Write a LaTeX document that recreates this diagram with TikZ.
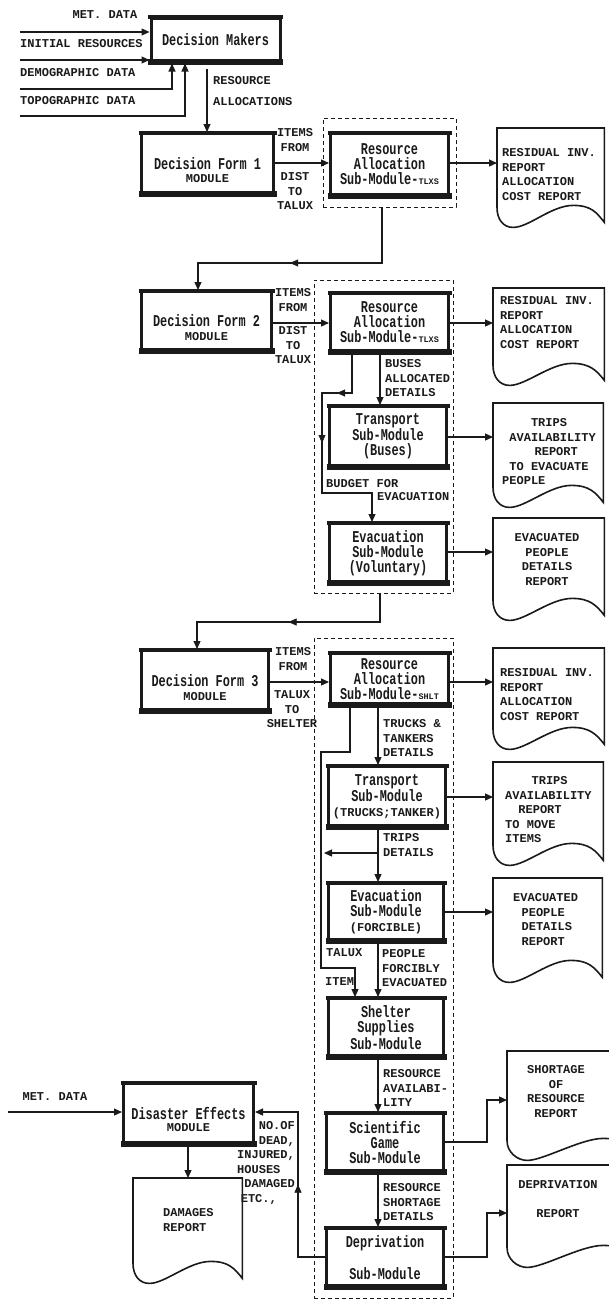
\documentclass[tikz,border=0pt]{standalone}
\usepackage{fontspec}
\newfontfamily\ttlf{Liberation Mono}[FakeStretch=0.72]
\newfontfamily\lblf{Liberation Mono}
\usetikzlibrary{arrows.meta,calc,decorations.markings}
\definecolor{ink}{HTML}{1A1A1A}
\tikzset{
 modbox/.style={draw=ink, line width=3pt, fill=white, inner sep=1pt, align=center,
   font=\ttlf\fontsize{16.5}{15}\selectfont\bfseries, text=ink},
 lbl/.style={font=\lblf\fontsize{12}{14.5}\selectfont\bfseries, text=ink, inner sep=0pt, align=left},
 lblc/.style={lbl, align=center},
 conn/.style={draw=ink, line width=1.2pt},
 arr/.style={conn, -{Triangle[length=8pt,width=7pt]}},
 midtip/.style={postaction={decorate}, decoration={markings, mark=at position 0.5 with {\arrow[ink]{Triangle[length=8pt,width=7pt]}}}},
 dbox/.style={draw=ink, line width=1pt, dash pattern=on 4pt off 3pt},
 docline/.style={draw=ink, line width=1.6pt},
 docn/.style={inner sep=0pt, anchor=north west},
 rimtop/.style={draw=ink, line width=4pt},
 rimbot/.style={draw=ink, line width=6pt},
}
\newcommand\docshape[5]{%
 \node[docn, minimum width=#4pt, minimum height=#5pt] (#1) at (#2,#3) {};
 \draw[docline] (#1.south west) -- (#1.north west) -- (#1.north east) -- ($(#1.south east)+(0,15)$)
   .. controls +(-8,-10) and +(18,0) .. ($(#1.south west)!0.71!(#1.south east)+(0,-2)$)
   .. controls +(-22,0) and +(16,0) .. ($(#1.south west)!0.15!(#1.south east)+(0,20)$)
   .. controls +(-10,0) and +(0,12) .. (#1.south west);
}
\newcommand\smallsub[1]{{\lblf\fontsize{8.5}{9}\selectfont #1}}
\newcommand\smalltxt[1]{{\lblf\fontsize{12}{12}\selectfont #1}}
\begin{document}
\begin{tikzpicture}[x=1pt,y=-1pt]
\useasboundingbox (0,0) rectangle (608,1301);
\fill[white] (0,0) rectangle (608,1301);

% dashed frames
\node[dbox, minimum width=133pt, minimum height=89pt] (D1) at (389.5,162.5) {};
\node[dbox, minimum width=139pt, minimum height=313pt] (D2) at (383.5,436.5) {};
\node[dbox, minimum width=139pt, minimum height=660pt] (D3) at (383.5,968) {};

% module boxes
\node[modbox, minimum width=129pt, minimum height=44pt] (DM) at (215.5,40) {Decision Makers};
\node[modbox, minimum width=132pt, minimum height=60pt] (DF1) at (207.5,163.5) {Decision Form 1};
\node[modbox, minimum width=118pt, minimum height=62pt] (RA1) at (389.5,164.5) {Resource\\Allocation\\Sub-Module-\smallsub{TLXS}};
\node[modbox, minimum width=130pt, minimum height=59pt] (DF2) at (206.5,321) {Decision Form 2};
\node[modbox, minimum width=118pt, minimum height=58pt] (RA2) at (389.5,322.5) {Resource\\Allocation\\Sub-Module-\smallsub{TLXS}};
\node[modbox, minimum width=117pt, minimum height=60pt] (T1) at (388,436.5) {Transport\\Sub-Module\\(Buses)};
\node[modbox, minimum width=117pt, minimum height=59pt] (E1) at (388,553) {Evacuation\\Sub-Module\\(Voluntary)};
\node[modbox, minimum width=127pt, minimum height=60pt] (DF3) at (205,680.5) {Decision Form 3};
\node[modbox, minimum width=118pt, minimum height=51pt] (RA3) at (389.5,679) {Resource\\Allocation\\Sub-Module-\smallsub{SHLT}};
\node[modbox, minimum width=117pt, minimum height=60pt] (T2) at (387,796.5) {Transport\\Sub-Module\\\smalltxt{(TRUCKS;TANKER)}};
\node[modbox, minimum width=115pt, minimum height=57pt] (E2) at (386,912) {Evacuation\\Sub-Module\\\smalltxt{(FORCIBLE)}};
\node[modbox, minimum width=115pt, minimum height=58pt] (SH) at (386,1027.5) {Shelter\\Supplies\\Sub-Module};
\node[modbox, minimum width=117pt, minimum height=58pt] (SG) at (385,1142.5) {Scientific\\Game\\Sub-Module};
\node[modbox, minimum width=117pt, minimum height=58pt] (DP) at (385,1257.5) {Deprivation\\[15pt]Sub-Module};
\node[modbox, minimum width=130pt, minimum height=60pt] (DE) at (188.5,1113.5) {Disaster Effects};

% heavier top and bottom rims of the module boxes
\foreach \n in {DM,DF1,RA1,DF2,RA2,T1,E1,DF3,RA3,T2,E2,SH,SG,DP,DE}{
  \draw[rimtop] ($(\n.north west)+(-1.5,0.5)$) -- ($(\n.north east)+(1.5,0.5)$);
  \draw[rimbot] ($(\n.south west)+(-1.5,-1.5)$) -- ($(\n.south east)+(1.5,-1.5)$);
}

% MODULE captions
\node[lbl] (mo1) at (207.5,179) {MODULE};
\node[lbl] (mo2) at (206.5,337) {MODULE};
\node[lbl] (mo3) at (205,697) {MODULE};
\node[lbl] (mo4) at (188.5,1128) {MODULE};

% reports
\docshape{R1}{497}{128}{107}{79}
\docshape{R1b}{493}{288}{111}{77}
\docshape{R2}{493}{403}{110}{84}
\docshape{R3}{493}{518}{111}{82}
\docshape{R4}{493}{648}{111}{81}
\docshape{R5}{493}{762}{110}{83}
\docshape{R6}{493}{878}{109}{84}
\docshape{R7}{507}{1051}{135}{89}
\docshape{R8}{507}{1165}{135}{82}
\docshape{R9}{133}{1178}{109}{85}

\node[lbl, anchor=north west] (t1) at (502,148.5) {RESIDUAL INV.\\REPORT\\ALLOCATION\\COST REPORT};
\node[lbl, anchor=north west] (t1b) at (500,296.5) {RESIDUAL INV.\\REPORT\\ALLOCATION\\COST REPORT};
\node[lbl, anchor=north west] (t2) at (502,418.5) {\hspace*{2.4em}TRIPS\\\hspace*{0.6em}AVAILABILITY\\\hspace*{2.7em}REPORT\\\hspace*{0.6em}TO EVACUATE\\PEOPLE};
\node[lblc, anchor=north] (t3) at (547,533.5) {EVACUATED\\PEOPLE\\DETAILS\\REPORT};
\node[lbl, anchor=north west] (t4) at (500,668.5) {RESIDUAL INV.\\REPORT\\ALLOCATION\\COST REPORT};
\node[lbl, anchor=north west] (t5) at (505,776.5) {\hspace*{2.2em}TRIPS\\AVAILABILITY\\\hspace*{1.1em}REPORT\\TO MOVE\\ITEMS};
\node[lbl, anchor=north west] (t6) at (513,893.5) {EVACUATED\\\hspace*{0.7em}PEOPLE\\\hspace*{0.7em}DETAILS\\\hspace*{0.7em}REPORT};
\node[lblc, anchor=north] (t7) at (556,1065.5) {SHORTAGE\\OF\\RESOURCE\\REPORT};
\node[lblc, anchor=north] (t8) at (558,1180.5) {DEPRIVATION\\[14.5pt]REPORT};
\node[lbl, anchor=north west] (t9) at (163,1208.5) {DAMAGES\\REPORT};

% input labels
\node[lbl] (l1) at (105,15) {MET. DATA};
\node[lbl, anchor=west] (l2) at (20,44) {INITIAL RESOURCES};
\node[lbl, anchor=west] (l3) at (20,73) {DEMOGRAPHIC DATA};
\node[lbl, anchor=west] (l4) at (20,101) {TOPOGRAPHIC DATA};
\node[lbl, anchor=north west] (l5) at (213,76.5) {RESOURCE\\[6.5pt]ALLOCATIONS};
\node[lblc, anchor=north] (l6) at (295,128.5) {ITEMS\\FROM};
\node[lblc, anchor=north] (l7) at (295,172.5) {DIST\\TO\\TALUX};
\node[lblc, anchor=north] (l8) at (293,288.5) {ITEMS\\FROM};
\node[lblc, anchor=north] (l9) at (293,326.5) {DIST\\TO\\TALUX};
\node[lbl, anchor=north west] (l10) at (385,359.5) {BUSES\\ALLOCATED\\DETAILS};
\node[lbl, anchor=west] (l11) at (326,484) {BUDGET FOR};
\node[lbl, anchor=west] (l12) at (377,497) {EVACUATION};
\node[lblc, anchor=north] (l13) at (293,647.5) {ITEMS\\FROM};
\node[lblc, anchor=north] (l14) at (292,690.5) {TALUX\\TO\\SHELTER};
\node[lbl, anchor=north west] (l15) at (383,719.5) {TRUCKS \&\\TANKERS\\DETAILS};
\node[lbl, anchor=north west] (l16) at (383,833.5) {TRIPS\\DETAILS};
\node[lbl, anchor=west] (l17) at (326,953) {TALUX};
\node[lbl, anchor=west] (l18) at (325,982) {ITEM};
\node[lbl, anchor=north west] (l19) at (382,949.5) {PEOPLE\\FORCIBLY\\EVACUATED};
\node[lbl, anchor=north west] (l20) at (383,1069.5) {RESOURCE\\AVAILABI-\\LITY};
\node[lbl, anchor=north west] (l21) at (383,1183.5) {RESOURCE\\SHORTAGE\\DETAILS};
\node[lbl, anchor=north west] (l22) at (237,1121.5) {\hspace*{1.8em}NO.OF\\\hspace*{1.8em}DEAD,\\INJURED,\\HOUSES\\\hspace*{0.6em}DAMAGED\\\hspace*{0.3em}ETC.,};
\node[lbl] (l23) at (55,1097) {MET. DATA};

% connectors
\coordinate (i1) at (20,32);
\coordinate (i2) at (20,60);
\coordinate (i3) at (20,89);  \coordinate (i3b) at (172,89);
\coordinate (i4) at (20,116); \coordinate (i4b) at (185,116);
\draw[arr] (i1) -- (i1 -| DM.west);
\draw[arr] (i2) -- (i2 -| DM.west);
\draw[arr] (i3) -- (i3b) -- (i3b |- DM.south);
\draw[arr] (i4) -- (i4b) -- (i4b |- DM.south);
\coordinate (v1) at (207,69);
\draw[arr] (v1) -- (v1 |- DF1.north);

\coordinate (h1) at (0,163);
\draw[arr] (h1 -| DF1.east) -- (h1 -| RA1.west);
\draw[arr] (h1 -| RA1.east) -- (h1 -| R1.west);

\coordinate (k1) at (382,263); \coordinate (k2) at (198,263);
\draw[arr] (k1 |- D1.south) -- (k1) -- (k2) -- (k2 |- DF2.north);
\path[midtip] (k1) -- (k2);

\coordinate (h2) at (0,323);
\draw[arr] (h2 -| DF2.east) -- (h2 -| RA2.west);
\draw[arr] (h2 -| RA2.east) -- (h2 -| R1b.west);

\coordinate (p1) at (352,393); \coordinate (p2) at (322,393);
\coordinate (p3) at (322,493); \coordinate (p4) at (372,493);
\draw[arr] (p1 |- RA2.south) -- (p1) -- (p2) -- (p3) -- (p4) -- (p4 |- E1.north);
\path[midtip] (p1) -- (p2);
\path[midtip] (p2) -- (p3);

\coordinate (q1) at (380,0);
\draw[arr] (q1 |- RA2.south) -- (q1 |- T1.north);
\coordinate (h3) at (0,437);
\draw[arr] (h3 -| T1.east) -- (h3 -| R2.west);
\coordinate (h4) at (0,552);
\draw[arr] (h4 -| E1.east) -- (h4 -| R3.west);

\coordinate (k3) at (380,622); \coordinate (k4) at (197,622);
\draw[arr] (k3 |- D2.south) -- (k3) -- (k4) -- (k4 |- DF3.north);
\path[midtip] (k3) -- (k4);

\coordinate (h5) at (0,682);
\draw[arr] (h5 -| DF3.east) -- (h5 -| RA3.west);
\draw[arr] (h5 -| RA3.east) -- (h5 -| R4.west);

\coordinate (s1) at (350,752); \coordinate (s2) at (321,752);
\coordinate (s3) at (321,968); \coordinate (s4) at (355,968);
\draw[arr] (s1 |- RA3.south) -- (s1) -- (s2) -- (s3) -- (s4) -- (s4 |- SH.north);

\coordinate (q2) at (378,0);
\draw[arr] (q2 |- RA3.south) -- (q2 |- T2.north);
\coordinate (h6) at (0,797);
\draw[arr] (h6 -| T2.east) -- (h6 -| R5.west);
\draw[arr] (q2 |- T2.south) -- (q2 |- E2.north);
\coordinate (b1) at (378,853); \coordinate (b2) at (324,853);
\draw[arr] (b1) -- (b2);
\coordinate (h7) at (0,912);
\draw[arr] (h7 -| E2.east) -- (h7 -| R6.west);
\draw[arr] (q2 |- E2.south) -- (q2 |- SH.north);
\draw[arr] (q2 |- SH.south) -- (q2 |- SG.north);

\coordinate (u1) at (487,1142); \coordinate (u2) at (487,1100);
\draw[arr] (u1 -| SG.east) -- (u1) -- (u2) -- (u2 -| R7.west);
\draw[arr] (q2 |- SG.south) -- (q2 |- DP.north);
\coordinate (u3) at (487,1257); \coordinate (u4) at (487,1213);
\draw[arr] (u3 -| DP.east) -- (u3) -- (u4) -- (u4 -| R8.west);

\coordinate (w1) at (298,1257); \coordinate (w2) at (298,1112);
\draw[arr] (w1 -| DP.west) -- (w1) -- (w2) -- (w2 -| DE.east);
\path[midtip] (w1) -- (w2);

\coordinate (i5) at (8,1112);
\draw[arr] (i5) -- (i5 -| DE.west);
\coordinate (v2) at (188,0);
\draw[arr] (v2 |- DE.south) -- (v2 |- R9.north);
\end{tikzpicture}
\end{document}
